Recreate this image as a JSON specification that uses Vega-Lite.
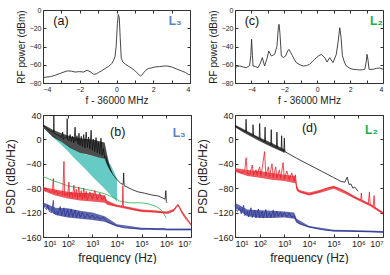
{
  "$schema": "https://vega.github.io/schema/vega-lite/v6.json",
  "padding": {"left": 4, "top": 5, "right": 0, "bottom": 0},
  "bounds": "flush",
  "align": "each",
  "columns": 2,
  "spacing": {"row": 32, "column": 44},
  "config": {
    "view": {"stroke": "#333", "strokeWidth": 1},
    "axis": {"grid": false, "domain": false, "tickSize": -3, "tickColor": "#333", "labelFont": "Liberation Sans", "titleFont": "Liberation Sans", "titleFontWeight": "normal", "labelColor": "#222", "titleColor": "#222", "labelPadding": 5}
  },
  "datasets": {
    "a": [
      {"x": -4, "y": -74}, {"x": -3.6, "y": -73}, {"x": -3.33, "y": -71.5}, {"x": -3, "y": -69}, {"x": -2.7, "y": -66.8}, {"x": -2.45, "y": -67}, {"x": -2.25, "y": -68}, {"x": -2, "y": -67.5}, {"x": -1.8, "y": -68}, {"x": -1.6, "y": -66}, {"x": -1.4, "y": -68}, {"x": -1.25, "y": -70.4}, {"x": -1.1, "y": -70}, {"x": -0.98, "y": -68.5}, {"x": -0.8, "y": -66.5}, {"x": -0.62, "y": -64.2}, {"x": -0.45, "y": -62}, {"x": -0.35, "y": -60.5}, {"x": -0.25, "y": -58.5}, {"x": -0.17, "y": -55.7}, {"x": -0.08, "y": -51}, {"x": -0.02, "y": -40}, {"x": 0.05, "y": -15}, {"x": 0.1, "y": -5}, {"x": 0.15, "y": -8}, {"x": 0.2, "y": -30}, {"x": 0.26, "y": -53}, {"x": 0.35, "y": -57}, {"x": 0.48, "y": -59.4}, {"x": 0.65, "y": -61.5}, {"x": 0.84, "y": -64}, {"x": 1.0, "y": -66.5}, {"x": 1.15, "y": -69.5}, {"x": 1.3, "y": -72.3}, {"x": 1.4, "y": -71}, {"x": 1.48, "y": -68.6}, {"x": 1.6, "y": -66}, {"x": 1.75, "y": -64}, {"x": 1.9, "y": -63.5}, {"x": 2.1, "y": -62.4}, {"x": 2.35, "y": -62}, {"x": 2.64, "y": -61.3}, {"x": 2.8, "y": -61.5}, {"x": 3.0, "y": -62.4}, {"x": 3.25, "y": -64.5}, {"x": 3.55, "y": -66.8}, {"x": 3.75, "y": -68.5}, {"x": 3.9, "y": -70.4}, {"x": 4.0, "y": -71}
    ],
    "c": [
      {"x": -5, "y": -63.2}, {"x": -4.85, "y": -62}, {"x": -4.71, "y": -61.4}, {"x": -4.5, "y": -62.5}, {"x": -4.31, "y": -63.2}, {"x": -4.11, "y": -61}, {"x": -4.04, "y": -50}, {"x": -3.99, "y": -32}, {"x": -3.94, "y": -50}, {"x": -3.9, "y": -61.4}, {"x": -3.75, "y": -62}, {"x": -3.6, "y": -63.2}, {"x": -3.45, "y": -58}, {"x": -3.34, "y": -52.2}, {"x": -3.2, "y": -61.4}, {"x": -3.05, "y": -53}, {"x": -2.95, "y": -45}, {"x": -2.79, "y": -50.4}, {"x": -2.59, "y": -48.6}, {"x": -2.45, "y": -40}, {"x": -2.36, "y": -18}, {"x": -2.32, "y": -15.7}, {"x": -2.27, "y": -25}, {"x": -2.18, "y": -50.4}, {"x": -2.05, "y": -52}, {"x": -1.92, "y": -50.4}, {"x": -1.8, "y": -45}, {"x": -1.72, "y": -43.1}, {"x": -1.6, "y": -47}, {"x": -1.51, "y": -50}, {"x": -1.4, "y": -54}, {"x": -1.27, "y": -57.7}, {"x": -1.05, "y": -60}, {"x": -0.86, "y": -61.4}, {"x": -0.66, "y": -61}, {"x": -0.46, "y": -59.5}, {"x": -0.25, "y": -55.5}, {"x": -0.05, "y": -52.2}, {"x": 0.1, "y": -50}, {"x": 0.25, "y": -48.6}, {"x": 0.46, "y": -52.2}, {"x": 0.6, "y": -57}, {"x": 0.76, "y": -52.2}, {"x": 0.96, "y": -57.7}, {"x": 1.16, "y": -48.6}, {"x": 1.27, "y": -35}, {"x": 1.37, "y": -19.4}, {"x": 1.45, "y": -30}, {"x": 1.53, "y": -50}, {"x": 1.65, "y": -57}, {"x": 1.77, "y": -61.4}, {"x": 2.0, "y": -64}, {"x": 2.18, "y": -65}, {"x": 2.4, "y": -65.3}, {"x": 2.58, "y": -65.7}, {"x": 2.75, "y": -65.5}, {"x": 2.89, "y": -65}, {"x": 2.97, "y": -58}, {"x": 3.03, "y": -48.6}, {"x": 3.09, "y": -55}, {"x": 3.15, "y": -65}, {"x": 3.39, "y": -65}, {"x": 3.6, "y": -64}, {"x": 3.8, "y": -63.5}, {"x": 4.0, "y": -64.9}
    ],
    "bband": [
      {"f": 10, "hi": 21, "lo": 19}, {"f": 17.8, "hi": 12, "lo": 10}, {"f": 31.6, "hi": 4, "lo": 0}, {"f": 56.2, "hi": -3, "lo": -9}, {"f": 100, "hi": -10, "lo": -19}, {"f": 178, "hi": -16, "lo": -30}, {"f": 316, "hi": -21, "lo": -40}, {"f": 562, "hi": -25, "lo": -50}, {"f": 1000, "hi": -27, "lo": -61}, {"f": 1778, "hi": -29, "lo": -71}, {"f": 3162, "hi": -32, "lo": -81}, {"f": 5623, "hi": -42, "lo": -92}, {"f": 10000, "hi": -64, "lo": -102}
    ],
    "benv": [
      {"s": "t1", "f": 10, "hi": 25, "lo": 20}, {"s": "t1", "f": 25, "hi": 16, "lo": 4}, {"s": "t1", "f": 56, "hi": 10, "lo": -4}, {"s": "t1", "f": 126, "hi": 5, "lo": -14}, {"s": "t1", "f": 316, "hi": 2, "lo": -22}, {"s": "t1", "f": 1000, "hi": 0, "lo": -27}, {"s": "t1", "f": 3162, "hi": -5, "lo": -32}, {"s": "t1", "f": 3981, "hi": -25, "lo": -42}, {"s": "t1", "f": 5012, "hi": -42, "lo": -50}, {"s": "t1", "f": 6310, "hi": -54, "lo": -56},
      {"s": "t3", "f": 10, "hi": -78, "lo": -84}, {"s": "t3", "f": 31.6, "hi": -82, "lo": -92}, {"s": "t3", "f": 100, "hi": -86, "lo": -97}, {"s": "t3", "f": 316, "hi": -88, "lo": -100}, {"s": "t3", "f": 1000, "hi": -88, "lo": -102}, {"s": "t3", "f": 3162, "hi": -92, "lo": -104}, {"s": "t3", "f": 3981, "hi": -100, "lo": -107}, {"s": "t3", "f": 10000, "hi": -107, "lo": -111}, {"s": "t3", "f": 31623, "hi": -111, "lo": -115}, {"s": "t3", "f": 100000, "hi": -115, "lo": -119}, {"s": "t3", "f": 316228, "hi": -116, "lo": -120}, {"s": "t3", "f": 1000000, "hi": -118, "lo": -122}, {"s": "t3", "f": 1995262, "hi": -114, "lo": -118}, {"s": "t3", "f": 2951209, "hi": -106, "lo": -109}, {"s": "t3", "f": 3981072, "hi": -115, "lo": -119}, {"s": "t3", "f": 10000000, "hi": -138, "lo": -141},
      {"s": "t4", "f": 10, "hi": -103, "lo": -108}, {"s": "t4", "f": 31.6, "hi": -112, "lo": -124}, {"s": "t4", "f": 100, "hi": -113, "lo": -128}, {"s": "t4", "f": 316, "hi": -117, "lo": -130}, {"s": "t4", "f": 1000, "hi": -120, "lo": -132}, {"s": "t4", "f": 3162, "hi": -126, "lo": -135}, {"s": "t4", "f": 10000, "hi": -139, "lo": -143}, {"s": "t4", "f": 100000, "hi": -145, "lo": -148}, {"s": "t4", "f": 1000000, "hi": -146, "lo": -149}, {"s": "t4", "f": 10000000, "hi": -146, "lo": -149}
    ],
    "denv": [
      {"s": "t1", "f": 10, "hi": 24, "lo": 20}, {"s": "t1", "f": 25, "hi": 16, "lo": 10}, {"s": "t1", "f": 100, "hi": 3, "lo": -3}, {"s": "t1", "f": 316, "hi": -6, "lo": -13}, {"s": "t1", "f": 1000, "hi": -16, "lo": -22}, {"s": "t1", "f": 1100, "hi": -19, "lo": -21},
      {"s": "t3", "f": 10, "hi": -47, "lo": -53}, {"s": "t3", "f": 31.6, "hi": -50, "lo": -60}, {"s": "t3", "f": 100, "hi": -52, "lo": -63}, {"s": "t3", "f": 316, "hi": -55, "lo": -66}, {"s": "t3", "f": 1000, "hi": -58, "lo": -68}, {"s": "t3", "f": 2818, "hi": -60, "lo": -72}, {"s": "t3", "f": 3162, "hi": -75, "lo": -84}, {"s": "t3", "f": 3981, "hi": -83, "lo": -87}, {"s": "t3", "f": 10000, "hi": -87, "lo": -92}, {"s": "t3", "f": 31623, "hi": -82, "lo": -87}, {"s": "t3", "f": 100000, "hi": -76, "lo": -81}, {"s": "t3", "f": 316228, "hi": -85, "lo": -90}, {"s": "t3", "f": 1000000, "hi": -96, "lo": -100}, {"s": "t3", "f": 3162278, "hi": -106, "lo": -110}, {"s": "t3", "f": 10000000, "hi": -119, "lo": -123},
      {"s": "t4", "f": 10, "hi": -104, "lo": -112}, {"s": "t4", "f": 31.6, "hi": -115, "lo": -126}, {"s": "t4", "f": 100, "hi": -116, "lo": -129}, {"s": "t4", "f": 316, "hi": -117, "lo": -129}, {"s": "t4", "f": 1000, "hi": -118, "lo": -128}, {"s": "t4", "f": 2512, "hi": -120, "lo": -130}, {"s": "t4", "f": 3162, "hi": -130, "lo": -137}, {"s": "t4", "f": 10000, "hi": -142, "lo": -145}, {"s": "t4", "f": 100000, "hi": -148, "lo": -151}, {"s": "t4", "f": 1000000, "hi": -149, "lo": -152}, {"s": "t4", "f": 10000000, "hi": -150, "lo": -153}
    ],
    "b": [
      {"s": "t1", "f": 10, "v": 23}, {"s": "t1", "f": 12.6, "v": 20}, {"s": "t1", "f": 15.8, "v": 17}, {"s": "t1", "f": 20, "v": 14}, {"s": "t1", "f": 25.1, "v": 12}, {"s": "t1", "f": 26.9, "v": 12}, {"s": "t1", "f": 27.5, "v": 40}, {"s": "t1", "f": 28.2, "v": 10}, {"s": "t1", "f": 35.5, "v": 8}, {"s": "t1", "f": 44.7, "v": 6}, {"s": "t1", "f": 56.2, "v": 3}, {"s": "t1", "f": 63.1, "v": 12}, {"s": "t1", "f": 66.1, "v": 0}, {"s": "t1", "f": 79.4, "v": 4}, {"s": "t1", "f": 93.3, "v": 2}, {"s": "t1", "f": 95.5, "v": 34}, {"s": "t1", "f": 97.7, "v": 0}, {"s": "t1", "f": 112, "v": -2}, {"s": "t1", "f": 126, "v": 8}, {"s": "t1", "f": 141, "v": -4}, {"s": "t1", "f": 158, "v": 5}, {"s": "t1", "f": 178, "v": -6}, {"s": "t1", "f": 200, "v": 20}, {"s": "t1", "f": 214, "v": -3}, {"s": "t1", "f": 240, "v": 6}, {"s": "t1", "f": 263, "v": -8}, {"s": "t1", "f": 288, "v": 10}, {"s": "t1", "f": 316, "v": -10}, {"s": "t1", "f": 355, "v": 5}, {"s": "t1", "f": 398, "v": -12}, {"s": "t1", "f": 447, "v": 8}, {"s": "t1", "f": 501, "v": -14}, {"s": "t1", "f": 562, "v": 12}, {"s": "t1", "f": 631, "v": -13}, {"s": "t1", "f": 708, "v": 4}, {"s": "t1", "f": 794, "v": -16}, {"s": "t1", "f": 891, "v": 15}, {"s": "t1", "f": 1000, "v": -18}, {"s": "t1", "f": 1122, "v": 0}, {"s": "t1", "f": 1259, "v": -20}, {"s": "t1", "f": 1413, "v": 3}, {"s": "t1", "f": 1585, "v": -22}, {"s": "t1", "f": 1778, "v": -5}, {"s": "t1", "f": 1995, "v": -24}, {"s": "t1", "f": 2239, "v": 2}, {"s": "t1", "f": 2512, "v": -26}, {"s": "t1", "f": 2818, "v": -15}, {"s": "t1", "f": 3162, "v": -30}, {"s": "t1", "f": 3548, "v": -28}, {"s": "t1", "f": 3981, "v": -38}, {"s": "t1", "f": 5012, "v": -47}, {"s": "t1", "f": 6310, "v": -55}, {"s": "t1", "f": 7943, "v": -61}, {"s": "t1", "f": 10000, "v": -66}, {"s": "t1", "f": 14125, "v": -72}, {"s": "t1", "f": 17783, "v": -74}, {"s": "t1", "f": 18621, "v": -55}, {"s": "t1", "f": 19498, "v": -76}, {"s": "t1", "f": 25119, "v": -78}, {"s": "t1", "f": 39811, "v": -82}, {"s": "t1", "f": 70795, "v": -86}, {"s": "t1", "f": 125893, "v": -88}, {"s": "t1", "f": 251189, "v": -91}, {"s": "t1", "f": 501187, "v": -93}, {"s": "t1", "f": 707946, "v": -96}, {"s": "t1", "f": 891251, "v": -98}, {"s": "t1", "f": 954993, "v": -84}, {"s": "t1", "f": 1000000, "v": -102}, {"s": "t1", "f": 1071519, "v": -104},
      {"s": "t2", "f": 10, "v": -61}, {"s": "t2", "f": 27.5, "v": -68}, {"s": "t2", "f": 100, "v": -76}, {"s": "t2", "f": 316, "v": -80}, {"s": "t2", "f": 1000, "v": -84}, {"s": "t2", "f": 3162, "v": -89}, {"s": "t2", "f": 7943, "v": -96}, {"s": "t2", "f": 12589, "v": -101}, {"s": "t2", "f": 31623, "v": -104}, {"s": "t2", "f": 100000, "v": -104}, {"s": "t2", "f": 199526, "v": -106}, {"s": "t2", "f": 398107, "v": -110}, {"s": "t2", "f": 630957, "v": -116}, {"s": "t2", "f": 1000000, "v": -129},
      {"s": "t3", "f": 10, "v": -80}, {"s": "t3", "f": 12.6, "v": -84}, {"s": "t3", "f": 15.8, "v": -82}, {"s": "t3", "f": 20, "v": -87}, {"s": "t3", "f": 24, "v": -85}, {"s": "t3", "f": 26.3, "v": -64}, {"s": "t3", "f": 28.2, "v": -88}, {"s": "t3", "f": 35.5, "v": -84}, {"s": "t3", "f": 39.8, "v": -90}, {"s": "t3", "f": 50.1, "v": -87}, {"s": "t3", "f": 63.1, "v": -91}, {"s": "t3", "f": 70.8, "v": -36}, {"s": "t3", "f": 75.9, "v": -92}, {"s": "t3", "f": 89.1, "v": -88}, {"s": "t3", "f": 100, "v": -93}, {"s": "t3", "f": 112, "v": -70}, {"s": "t3", "f": 120, "v": -94}, {"s": "t3", "f": 141, "v": -86}, {"s": "t3", "f": 158, "v": -95}, {"s": "t3", "f": 178, "v": -75}, {"s": "t3", "f": 200, "v": -94}, {"s": "t3", "f": 224, "v": -82}, {"s": "t3", "f": 251, "v": -97}, {"s": "t3", "f": 282, "v": -78}, {"s": "t3", "f": 316, "v": -95}, {"s": "t3", "f": 355, "v": -84}, {"s": "t3", "f": 398, "v": -98}, {"s": "t3", "f": 447, "v": -80}, {"s": "t3", "f": 501, "v": -96}, {"s": "t3", "f": 562, "v": -85}, {"s": "t3", "f": 631, "v": -99}, {"s": "t3", "f": 794, "v": -86}, {"s": "t3", "f": 1000, "v": -98}, {"s": "t3", "f": 1259, "v": -84}, {"s": "t3", "f": 1585, "v": -99}, {"s": "t3", "f": 1995, "v": -88}, {"s": "t3", "f": 2512, "v": -100}, {"s": "t3", "f": 3162, "v": -92}, {"s": "t3", "f": 3548, "v": -102}, {"s": "t3", "f": 4467, "v": -105}, {"s": "t3", "f": 6310, "v": -107}, {"s": "t3", "f": 10000, "v": -109}, {"s": "t3", "f": 14125, "v": -110}, {"s": "t3", "f": 16596, "v": -108}, {"s": "t3", "f": 17378, "v": -76}, {"s": "t3", "f": 18197, "v": -111}, {"s": "t3", "f": 25119, "v": -112}, {"s": "t3", "f": 39811, "v": -114}, {"s": "t3", "f": 63096, "v": -116}, {"s": "t3", "f": 100000, "v": -117}, {"s": "t3", "f": 199526, "v": -118}, {"s": "t3", "f": 398107, "v": -119}, {"s": "t3", "f": 794328, "v": -120}, {"s": "t3", "f": 1258925, "v": -121}, {"s": "t3", "f": 1995262, "v": -116}, {"s": "t3", "f": 2511886, "v": -110}, {"s": "t3", "f": 2951209, "v": -107}, {"s": "t3", "f": 3548134, "v": -112}, {"s": "t3", "f": 4466836, "v": -122}, {"s": "t3", "f": 6309573, "v": -131}, {"s": "t3", "f": 10000000, "v": -140},
      {"s": "t4", "f": 10, "v": -105}, {"s": "t4", "f": 12, "v": -112}, {"s": "t4", "f": 14.1, "v": -115}, {"s": "t4", "f": 15.8, "v": -108}, {"s": "t4", "f": 17.8, "v": -118}, {"s": "t4", "f": 22.4, "v": -120}, {"s": "t4", "f": 26.3, "v": -100}, {"s": "t4", "f": 28.8, "v": -122}, {"s": "t4", "f": 35.5, "v": -118}, {"s": "t4", "f": 39.8, "v": -124}, {"s": "t4", "f": 50.1, "v": -110}, {"s": "t4", "f": 56.2, "v": -125}, {"s": "t4", "f": 70.8, "v": -112}, {"s": "t4", "f": 79.4, "v": -126}, {"s": "t4", "f": 100, "v": -115}, {"s": "t4", "f": 112, "v": -127}, {"s": "t4", "f": 141, "v": -114}, {"s": "t4", "f": 158, "v": -127}, {"s": "t4", "f": 200, "v": -116}, {"s": "t4", "f": 224, "v": -128}, {"s": "t4", "f": 282, "v": -118}, {"s": "t4", "f": 316, "v": -128}, {"s": "t4", "f": 398, "v": -120}, {"s": "t4", "f": 501, "v": -129}, {"s": "t4", "f": 631, "v": -122}, {"s": "t4", "f": 794, "v": -129}, {"s": "t4", "f": 1000, "v": -124}, {"s": "t4", "f": 1259, "v": -130}, {"s": "t4", "f": 1585, "v": -126}, {"s": "t4", "f": 1995, "v": -131}, {"s": "t4", "f": 2818, "v": -128}, {"s": "t4", "f": 3548, "v": -134}, {"s": "t4", "f": 5012, "v": -137}, {"s": "t4", "f": 7943, "v": -140}, {"s": "t4", "f": 12589, "v": -143}, {"s": "t4", "f": 19953, "v": -145}, {"s": "t4", "f": 39811, "v": -146}, {"s": "t4", "f": 100000, "v": -147}, {"s": "t4", "f": 199526, "v": -146}, {"s": "t4", "f": 398107, "v": -147}, {"s": "t4", "f": 794328, "v": -146}, {"s": "t4", "f": 1000000, "v": -148}, {"s": "t4", "f": 3162278, "v": -148}, {"s": "t4", "f": 10000000, "v": -148}
    ],
    "d": [
      {"s": "t1", "f": 10, "v": 22}, {"s": "t1", "f": 15.8, "v": 17.5}, {"s": "t1", "f": 25.1, "v": 13}, {"s": "t1", "f": 26.9, "v": 12.5}, {"s": "t1", "f": 28.2, "v": 33}, {"s": "t1", "f": 29.5, "v": 12}, {"s": "t1", "f": 39.8, "v": 9}, {"s": "t1", "f": 52.5, "v": 6.5}, {"s": "t1", "f": 53.7, "v": 24}, {"s": "t1", "f": 56.2, "v": 6}, {"s": "t1", "f": 70.8, "v": 4}, {"s": "t1", "f": 95.5, "v": 1}, {"s": "t1", "f": 100, "v": 26}, {"s": "t1", "f": 104.7, "v": 0}, {"s": "t1", "f": 126, "v": -1.5}, {"s": "t1", "f": 158, "v": -4}, {"s": "t1", "f": 166, "v": 20}, {"s": "t1", "f": 174, "v": -4.5}, {"s": "t1", "f": 224, "v": -7}, {"s": "t1", "f": 282, "v": -9}, {"s": "t1", "f": 295, "v": 16}, {"s": "t1", "f": 309, "v": -9.5}, {"s": "t1", "f": 398, "v": -12}, {"s": "t1", "f": 479, "v": -13.5}, {"s": "t1", "f": 501, "v": 12}, {"s": "t1", "f": 525, "v": -14}, {"s": "t1", "f": 631, "v": -16}, {"s": "t1", "f": 741, "v": -17.5}, {"s": "t1", "f": 776, "v": 6}, {"s": "t1", "f": 813, "v": -18}, {"s": "t1", "f": 955, "v": -19.5}, {"s": "t1", "f": 1000, "v": 2}, {"s": "t1", "f": 1047, "v": -20}, {"s": "t1", "f": 3162, "v": -31}, {"s": "t1", "f": 10000, "v": -41.5}, {"s": "t1", "f": 31623, "v": -52}, {"s": "t1", "f": 100000, "v": -62.5}, {"s": "t1", "f": 199526, "v": -69}, {"s": "t1", "f": 281838, "v": -70}, {"s": "t1", "f": 354813, "v": -62}, {"s": "t1", "f": 416869, "v": -74}, {"s": "t1", "f": 501187, "v": -73}, {"s": "t1", "f": 602560, "v": -80}, {"s": "t1", "f": 707946, "v": -78}, {"s": "t1", "f": 977237, "v": -85},
      {"s": "t3", "f": 10, "v": -50}, {"s": "t3", "f": 12.6, "v": -52}, {"s": "t3", "f": 15.8, "v": -54}, {"s": "t3", "f": 20, "v": -55}, {"s": "t3", "f": 25.1, "v": -50}, {"s": "t3", "f": 28.2, "v": -30}, {"s": "t3", "f": 31.6, "v": -56}, {"s": "t3", "f": 39.8, "v": -57}, {"s": "t3", "f": 50.1, "v": -42}, {"s": "t3", "f": 56.2, "v": -58}, {"s": "t3", "f": 70.8, "v": -50}, {"s": "t3", "f": 79.4, "v": -58}, {"s": "t3", "f": 100, "v": -45}, {"s": "t3", "f": 112, "v": -59}, {"s": "t3", "f": 126, "v": -48}, {"s": "t3", "f": 158, "v": -20}, {"s": "t3", "f": 178, "v": -60}, {"s": "t3", "f": 224, "v": -45}, {"s": "t3", "f": 251, "v": -61}, {"s": "t3", "f": 316, "v": -40}, {"s": "t3", "f": 355, "v": -62}, {"s": "t3", "f": 447, "v": -45}, {"s": "t3", "f": 501, "v": -63}, {"s": "t3", "f": 631, "v": -50}, {"s": "t3", "f": 708, "v": -64}, {"s": "t3", "f": 891, "v": -38}, {"s": "t3", "f": 1000, "v": -65}, {"s": "t3", "f": 1259, "v": -52}, {"s": "t3", "f": 1585, "v": -66}, {"s": "t3", "f": 1995, "v": -55}, {"s": "t3", "f": 2512, "v": -68}, {"s": "t3", "f": 2818, "v": -58}, {"s": "t3", "f": 3162, "v": -80}, {"s": "t3", "f": 3981, "v": -85}, {"s": "t3", "f": 6310, "v": -88}, {"s": "t3", "f": 10000, "v": -90}, {"s": "t3", "f": 15849, "v": -88}, {"s": "t3", "f": 25119, "v": -86}, {"s": "t3", "f": 39811, "v": -82}, {"s": "t3", "f": 63096, "v": -79}, {"s": "t3", "f": 100000, "v": -78}, {"s": "t3", "f": 158489, "v": -80}, {"s": "t3", "f": 251189, "v": -84}, {"s": "t3", "f": 398107, "v": -89}, {"s": "t3", "f": 630957, "v": -94}, {"s": "t3", "f": 1000000, "v": -98}, {"s": "t3", "f": 1258925, "v": -99}, {"s": "t3", "f": 1318257, "v": -88}, {"s": "t3", "f": 1412538, "v": -100}, {"s": "t3", "f": 1995262, "v": -104}, {"s": "t3", "f": 2511886, "v": -106}, {"s": "t3", "f": 2818383, "v": -86}, {"s": "t3", "f": 3019952, "v": -107}, {"s": "t3", "f": 3981072, "v": -110}, {"s": "t3", "f": 4365158, "v": -92}, {"s": "t3", "f": 4677351, "v": -112}, {"s": "t3", "f": 6309573, "v": -115}, {"s": "t3", "f": 10000000, "v": -121},
      {"s": "t4", "f": 10, "v": -108}, {"s": "t4", "f": 11.2, "v": -115}, {"s": "t4", "f": 12.6, "v": -118}, {"s": "t4", "f": 15.8, "v": -112}, {"s": "t4", "f": 17.8, "v": -122}, {"s": "t4", "f": 22.4, "v": -108}, {"s": "t4", "f": 25.1, "v": -125}, {"s": "t4", "f": 31.6, "v": -118}, {"s": "t4", "f": 35.5, "v": -127}, {"s": "t4", "f": 44.7, "v": -112}, {"s": "t4", "f": 50.1, "v": -128}, {"s": "t4", "f": 63.1, "v": -116}, {"s": "t4", "f": 70.8, "v": -129}, {"s": "t4", "f": 89.1, "v": -114}, {"s": "t4", "f": 100, "v": -128}, {"s": "t4", "f": 126, "v": -118}, {"s": "t4", "f": 141, "v": -129}, {"s": "t4", "f": 178, "v": -115}, {"s": "t4", "f": 200, "v": -128}, {"s": "t4", "f": 251, "v": -120}, {"s": "t4", "f": 282, "v": -128}, {"s": "t4", "f": 355, "v": -116}, {"s": "t4", "f": 398, "v": -127}, {"s": "t4", "f": 501, "v": -118}, {"s": "t4", "f": 562, "v": -126}, {"s": "t4", "f": 708, "v": -119}, {"s": "t4", "f": 794, "v": -127}, {"s": "t4", "f": 1000, "v": -120}, {"s": "t4", "f": 1259, "v": -127}, {"s": "t4", "f": 1585, "v": -121}, {"s": "t4", "f": 1995, "v": -128}, {"s": "t4", "f": 2512, "v": -125}, {"s": "t4", "f": 3162, "v": -134}, {"s": "t4", "f": 3981, "v": -138}, {"s": "t4", "f": 6310, "v": -141}, {"s": "t4", "f": 10000, "v": -143}, {"s": "t4", "f": 15849, "v": -145}, {"s": "t4", "f": 25119, "v": -147}, {"s": "t4", "f": 50119, "v": -149}, {"s": "t4", "f": 100000, "v": -150}, {"s": "t4", "f": 316228, "v": -150}, {"s": "t4", "f": 1000000, "v": -151}, {"s": "t4", "f": 3162278, "v": -151}, {"s": "t4", "f": 10000000, "v": -152}
    ]
  },
  "concat": [
    {
      "width": 147, "height": 73,
      "resolve": {"axis": {"x": "independent", "y": "independent"}},
      "layer": [
        {
          "data": {"name": "a"},
          "mark": {"type": "line", "color": "#333", "strokeWidth": 0.9},
          "encoding": {
            "x": {"field": "x", "type": "quantitative", "scale": {"domain": [-4, 4], "nice": false}, "axis": {"values": [-4, -3, -2, -1, 0, 1, 2, 3, 4], "labelExpr": "datum.value % 2 == 0 ? datum.label : ''", "labelFontSize": 7, "title": "f - 36000 MHz", "titleFontSize": 10, "titlePadding": 3}},
            "y": {"field": "y", "type": "quantitative", "scale": {"domain": [-80, 0], "nice": false}, "axis": {"values": [-80, -60, -40, -20, 0], "labelFontSize": 7, "title": "RF power (dBm)", "titleFontSize": 10, "titlePadding": 3}}
          }
        },
        {
          "data": {"values": [{"x": -3.02, "y": -11.6, "t": "(a)"}]},
          "mark": {"type": "text", "fontSize": 12.5, "font": "Liberation Sans", "color": "#111"},
          "encoding": {
            "x": {"field": "x", "type": "quantitative", "axis": {"orient": "top", "values": [-4, -3, -2, -1, 0, 1, 2, 3, 4], "labels": false, "title": null}},
            "y": {"field": "y", "type": "quantitative", "axis": {"orient": "right", "values": [-80, -60, -40, -20, 0], "labels": false, "title": null}},
            "text": {"field": "t"}
          }
        },
        {
          "data": {"values": [{"x": 3.19, "y": -11.6, "t": "L₃"}]},
          "mark": {"type": "text", "fontSize": 12, "fontWeight": "bold", "font": "Liberation Sans", "color": "#5b7fc8"},
          "encoding": {
            "x": {"field": "x", "type": "quantitative", "axis": null},
            "y": {"field": "y", "type": "quantitative", "axis": null},
            "text": {"field": "t"}
          }
        }
      ]
    },
    {
      "width": 148, "height": 73,
      "resolve": {"axis": {"x": "independent", "y": "independent"}},
      "layer": [
        {
          "data": {"name": "c"},
          "mark": {"type": "line", "color": "#333", "strokeWidth": 0.9},
          "encoding": {
            "x": {"field": "x", "type": "quantitative", "scale": {"domain": [-5, 4], "nice": false}, "axis": {"values": [-5, -4, -3, -2, -1, 0, 1, 2, 3, 4], "labelExpr": "datum.value % 2 == 0 ? datum.label : ''", "labelFontSize": 7, "title": "f - 36000 MHz", "titleFontSize": 10, "titlePadding": 3}},
            "y": {"field": "y", "type": "quantitative", "scale": {"domain": [-80, 0], "nice": false}, "axis": {"values": [-80, -60, -40, -20, 0], "labelFontSize": 7, "title": "RF power (dBm)", "titleFontSize": 10, "titlePadding": 3}}
          }
        },
        {
          "data": {"values": [{"x": -3.97, "y": -12, "t": "(c)"}]},
          "mark": {"type": "text", "fontSize": 12.5, "font": "Liberation Sans", "color": "#111"},
          "encoding": {
            "x": {"field": "x", "type": "quantitative", "axis": {"orient": "top", "values": [-5, -4, -3, -2, -1, 0, 1, 2, 3, 4], "labels": false, "title": null}},
            "y": {"field": "y", "type": "quantitative", "axis": {"orient": "right", "values": [-80, -60, -40, -20, 0], "labels": false, "title": null}},
            "text": {"field": "t"}
          }
        },
        {
          "data": {"values": [{"x": 3.6, "y": -12, "t": "L₂"}]},
          "mark": {"type": "text", "fontSize": 12, "fontWeight": "bold", "font": "Liberation Sans", "color": "#1aae4a"},
          "encoding": {
            "x": {"field": "x", "type": "quantitative", "axis": null},
            "y": {"field": "y", "type": "quantitative", "axis": null},
            "text": {"field": "t"}
          }
        }
      ]
    },
    {
      "width": 148, "height": 122,
      "resolve": {"axis": {"x": "independent", "y": "independent"}},
      "layer": [
        {
          "data": {"name": "bband"},
          "mark": {"type": "area", "color": "#66cbc4", "opacity": 1},
          "encoding": {
            "x": {"field": "f", "type": "quantitative", "scale": {"type": "log", "domain": [10, 10000000], "nice": false}, "axis": {"values": [10, 100, 1000, 10000, 100000, 1000000, 10000000], "labelExpr": "'10' + ['⁰','¹','²','³','⁴','⁵','⁶','⁷'][round(log(datum.value)/LN10)]", "labelFontSize": 9, "title": "frequency (Hz)", "titleFontSize": 12, "titlePadding": 4}},
            "y": {"field": "hi", "type": "quantitative", "scale": {"domain": [-160, 40], "nice": false}, "axis": {"values": [-160, -120, -80, -40, 0, 40], "labelFontSize": 9, "title": "PSD (dBc/Hz)", "titleFontSize": 12, "titlePadding": 3}},
            "y2": {"field": "lo"}
          }
        },
        {
          "data": {"name": "benv"},
          "mark": {"type": "area", "opacity": 0.75},
          "encoding": {
            "x": {"field": "f", "type": "quantitative", "axis": null},
            "y": {"field": "hi", "type": "quantitative", "axis": null},
            "y2": {"field": "lo"},
            "color": {"field": "s", "type": "nominal", "scale": {"domain": ["t1", "t2", "t3", "t4"], "range": ["#111111", "#22b04b", "#e8202a", "#2b3592"]}, "legend": null}
          }
        },
        {
          "data": {"name": "b"},
          "mark": {"type": "line", "strokeWidth": 0.8},
          "encoding": {
            "x": {"field": "f", "type": "quantitative", "axis": null},
            "y": {"field": "v", "type": "quantitative", "axis": null},
            "color": {"field": "s", "type": "nominal", "legend": null}
          }
        },
        {
          "data": {"values": [{"f": 10700, "y": 12.5, "t": "(b)"}]},
          "mark": {"type": "text", "fontSize": 12.5, "font": "Liberation Sans", "color": "#111"},
          "encoding": {
            "x": {"field": "f", "type": "quantitative", "axis": {"orient": "top", "values": [10, 100, 1000, 10000, 100000, 1000000, 10000000], "labels": false, "title": null}},
            "y": {"field": "y", "type": "quantitative", "axis": {"orient": "right", "values": [-160, -120, -80, -40, 0, 40], "labels": false, "title": null}},
            "text": {"field": "t"}
          }
        },
        {
          "data": {"values": [{"f": 3300000, "y": 11, "t": "L₃"}]},
          "mark": {"type": "text", "fontSize": 12, "fontWeight": "bold", "font": "Liberation Sans", "color": "#5b7fc8"},
          "encoding": {
            "x": {"field": "f", "type": "quantitative", "axis": null},
            "y": {"field": "y", "type": "quantitative", "axis": null},
            "text": {"field": "t"}
          }
        }
      ]
    },
    {
      "width": 148, "height": 122,
      "resolve": {"axis": {"x": "independent", "y": "independent"}},
      "layer": [
        {
          "data": {"name": "denv"},
          "mark": {"type": "area", "opacity": 0.75},
          "encoding": {
            "x": {"field": "f", "type": "quantitative", "scale": {"type": "log", "domain": [10, 10000000], "nice": false}, "axis": {"values": [10, 100, 1000, 10000, 100000, 1000000, 10000000], "labelExpr": "'10' + ['⁰','¹','²','³','⁴','⁵','⁶','⁷'][round(log(datum.value)/LN10)]", "labelFontSize": 9, "title": "frequency (Hz)", "titleFontSize": 12, "titlePadding": 4}},
            "y": {"field": "hi", "type": "quantitative", "scale": {"domain": [-160, 40], "nice": false}, "axis": {"values": [-160, -120, -80, -40, 0, 40], "labelFontSize": 9, "title": "PSD (dBc/Hz)", "titleFontSize": 12, "titlePadding": 3}},
            "y2": {"field": "lo"},
            "color": {"field": "s", "type": "nominal", "scale": {"domain": ["t1", "t3", "t4"], "range": ["#111111", "#e8202a", "#2b3592"]}, "legend": null}
          }
        },
        {
          "data": {"name": "d"},
          "mark": {"type": "line", "strokeWidth": 0.8},
          "encoding": {
            "x": {"field": "f", "type": "quantitative", "axis": null},
            "y": {"field": "v", "type": "quantitative", "axis": null},
            "color": {"field": "s", "type": "nominal", "legend": null}
          }
        },
        {
          "data": {"values": [{"f": 10500, "y": 19, "t": "(d)"}]},
          "mark": {"type": "text", "fontSize": 12.5, "font": "Liberation Sans", "color": "#111"},
          "encoding": {
            "x": {"field": "f", "type": "quantitative", "axis": {"orient": "top", "values": [10, 100, 1000, 10000, 100000, 1000000, 10000000], "labels": false, "title": null}},
            "y": {"field": "y", "type": "quantitative", "axis": {"orient": "right", "values": [-160, -120, -80, -40, 0, 40], "labels": false, "title": null}},
            "text": {"field": "t"}
          }
        },
        {
          "data": {"values": [{"f": 3400000, "y": 16, "t": "L₂"}]},
          "mark": {"type": "text", "fontSize": 12, "fontWeight": "bold", "font": "Liberation Sans", "color": "#1aae4a"},
          "encoding": {
            "x": {"field": "f", "type": "quantitative", "axis": null},
            "y": {"field": "y", "type": "quantitative", "axis": null},
            "text": {"field": "t"}
          }
        }
      ]
    }
  ]
}
